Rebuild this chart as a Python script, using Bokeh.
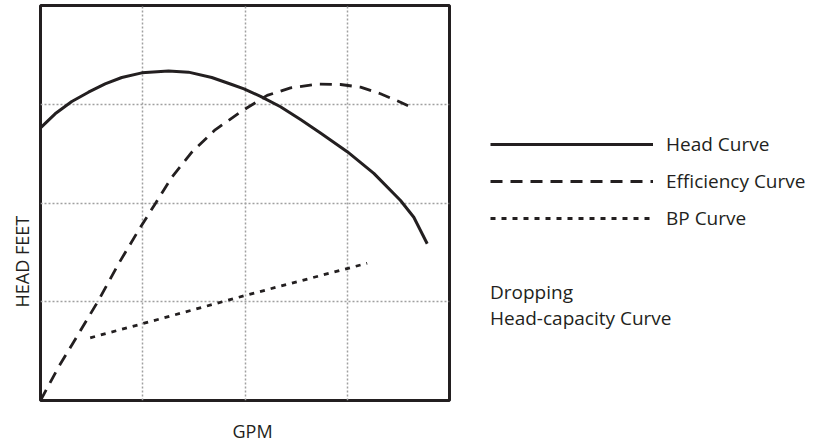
from bokeh.plotting import figure
from bokeh.models import Range1d, FixedTicker, Legend, LegendItem, Title
from bokeh.embed import file_html
from bokeh.resources import INLINE

# ---- data (axis units: 4 grid cells each way) ----
head_x = [0.0, 0.143, 0.306, 0.469, 0.632, 0.795, 0.991, 1.252, 1.447, 1.675, 1.871,
          1.99, 2.152, 2.347, 2.543, 2.738, 3.0, 3.26, 3.521, 3.651, 3.782]
head_y = [2.76, 2.903, 3.028, 3.122, 3.206, 3.271, 3.318, 3.337, 3.325, 3.271, 3.20,
          3.155, 3.08, 2.975, 2.845, 2.71, 2.52, 2.30, 2.025, 1.856, 1.587]

eff_x = [0.0, 0.176, 0.372, 0.567, 0.763, 0.958, 1.121, 1.284, 1.48, 1.708, 1.969,
         2.217, 2.445, 2.706, 2.934, 3.13, 3.325, 3.521, 3.635]
eff_y = [0.0, 0.338, 0.675, 1.013, 1.384, 1.722, 1.991, 2.261, 2.514, 2.741, 2.93,
         3.09, 3.165, 3.205, 3.2, 3.173, 3.106, 3.021, 2.964]

bp_x = [0.486, 0.991, 2.0, 3.195]
bp_y = [0.635, 0.776, 1.063, 1.39]

grid_ticks = [1, 2, 3]
spacer_tick = [2]
series_names = ["Head Curve", "Efficiency Curve", "BP Curve"]
x_title = "GPM"
y_title = "HEAD FEET"
note_text = "Dropping\nHead-capacity Curve"

FONT = "Open Sans"
INK = "#231f20"

p = figure(frame_width=409, frame_height=395,
           min_border_left=40, min_border_right=364,
           min_border_top=5, min_border_bottom=45,
           x_range=Range1d(0, 4), y_range=Range1d(0, 4),
           output_backend="svg", toolbar_location=None)
p.yaxis.visible = False
# x axis kept only as an invisible spacer below the frame
xa = p.xaxis[0]
xa.ticker = FixedTicker(ticks=spacer_tick)
xa.axis_line_color = None
xa.major_tick_out = 14
xa.major_tick_in = 0
xa.minor_tick_out = 0
xa.minor_tick_in = 0
xa.major_tick_line_color = "white"
xa.major_tick_line_alpha = 0.01
xa.minor_tick_line_color = None
xa.major_label_standoff = 0
xa.major_label_text_font_size = "1px"
xa.major_label_text_alpha = 0.01

p.background_fill_color = "white"
p.border_fill_color = "white"
p.outline_line_color = INK
p.outline_line_width = 3

for g in (p.xgrid, p.ygrid):
    g.ticker = FixedTicker(ticks=grid_ticks)
    g.grid_line_color = "#a0a0a0"
    g.grid_line_width = 1.5
    g.grid_line_dash = "2 2"

r_head = p.line(head_x, head_y, line_color=INK, line_width=3, line_join="round")
r_eff = p.line(eff_x, eff_y, line_color=INK, line_width=2.8, line_dash="12 8")
r_bp = p.line(bp_x, bp_y, line_color=INK, line_width=2.8, line_dash="5 6")

legend = Legend(items=[LegendItem(label=series_names[0], renderers=[r_head]),
                       LegendItem(label=series_names[1], renderers=[r_eff]),
                       LegendItem(label=series_names[2], renderers=[r_bp])],
                location=(41, 69), orientation="vertical",
                glyph_width=163, glyph_height=24, label_height=24,
                label_standoff=13, spacing=11, padding=0, margin=0,
                border_line_color=None, background_fill_alpha=0,
                label_text_font=FONT, label_text_font_size="19px",
                label_text_color=INK,
                title=note_text, title_location="below", title_standoff=48,
                title_text_font=FONT, title_text_font_size="19px",
                title_text_font_style="normal", title_text_color=INK,
                title_text_line_height=1.4)
p.add_layout(legend, "right")

p.add_layout(Title(text=y_title, align="left", offset=93, standoff=14,
                   text_font=FONT, text_font_size="18px", text_font_style="normal",
                   text_line_height=1.0, text_color=INK), "left")
p.add_layout(Title(text=x_title, align="left", offset=192, standoff=0,
                   vertical_align="top",
                   text_font=FONT, text_font_size="18px", text_font_style="normal",
                   text_line_height=1.0, text_color=INK), "below")

open("out.html", "w").write(file_html(p, INLINE))
